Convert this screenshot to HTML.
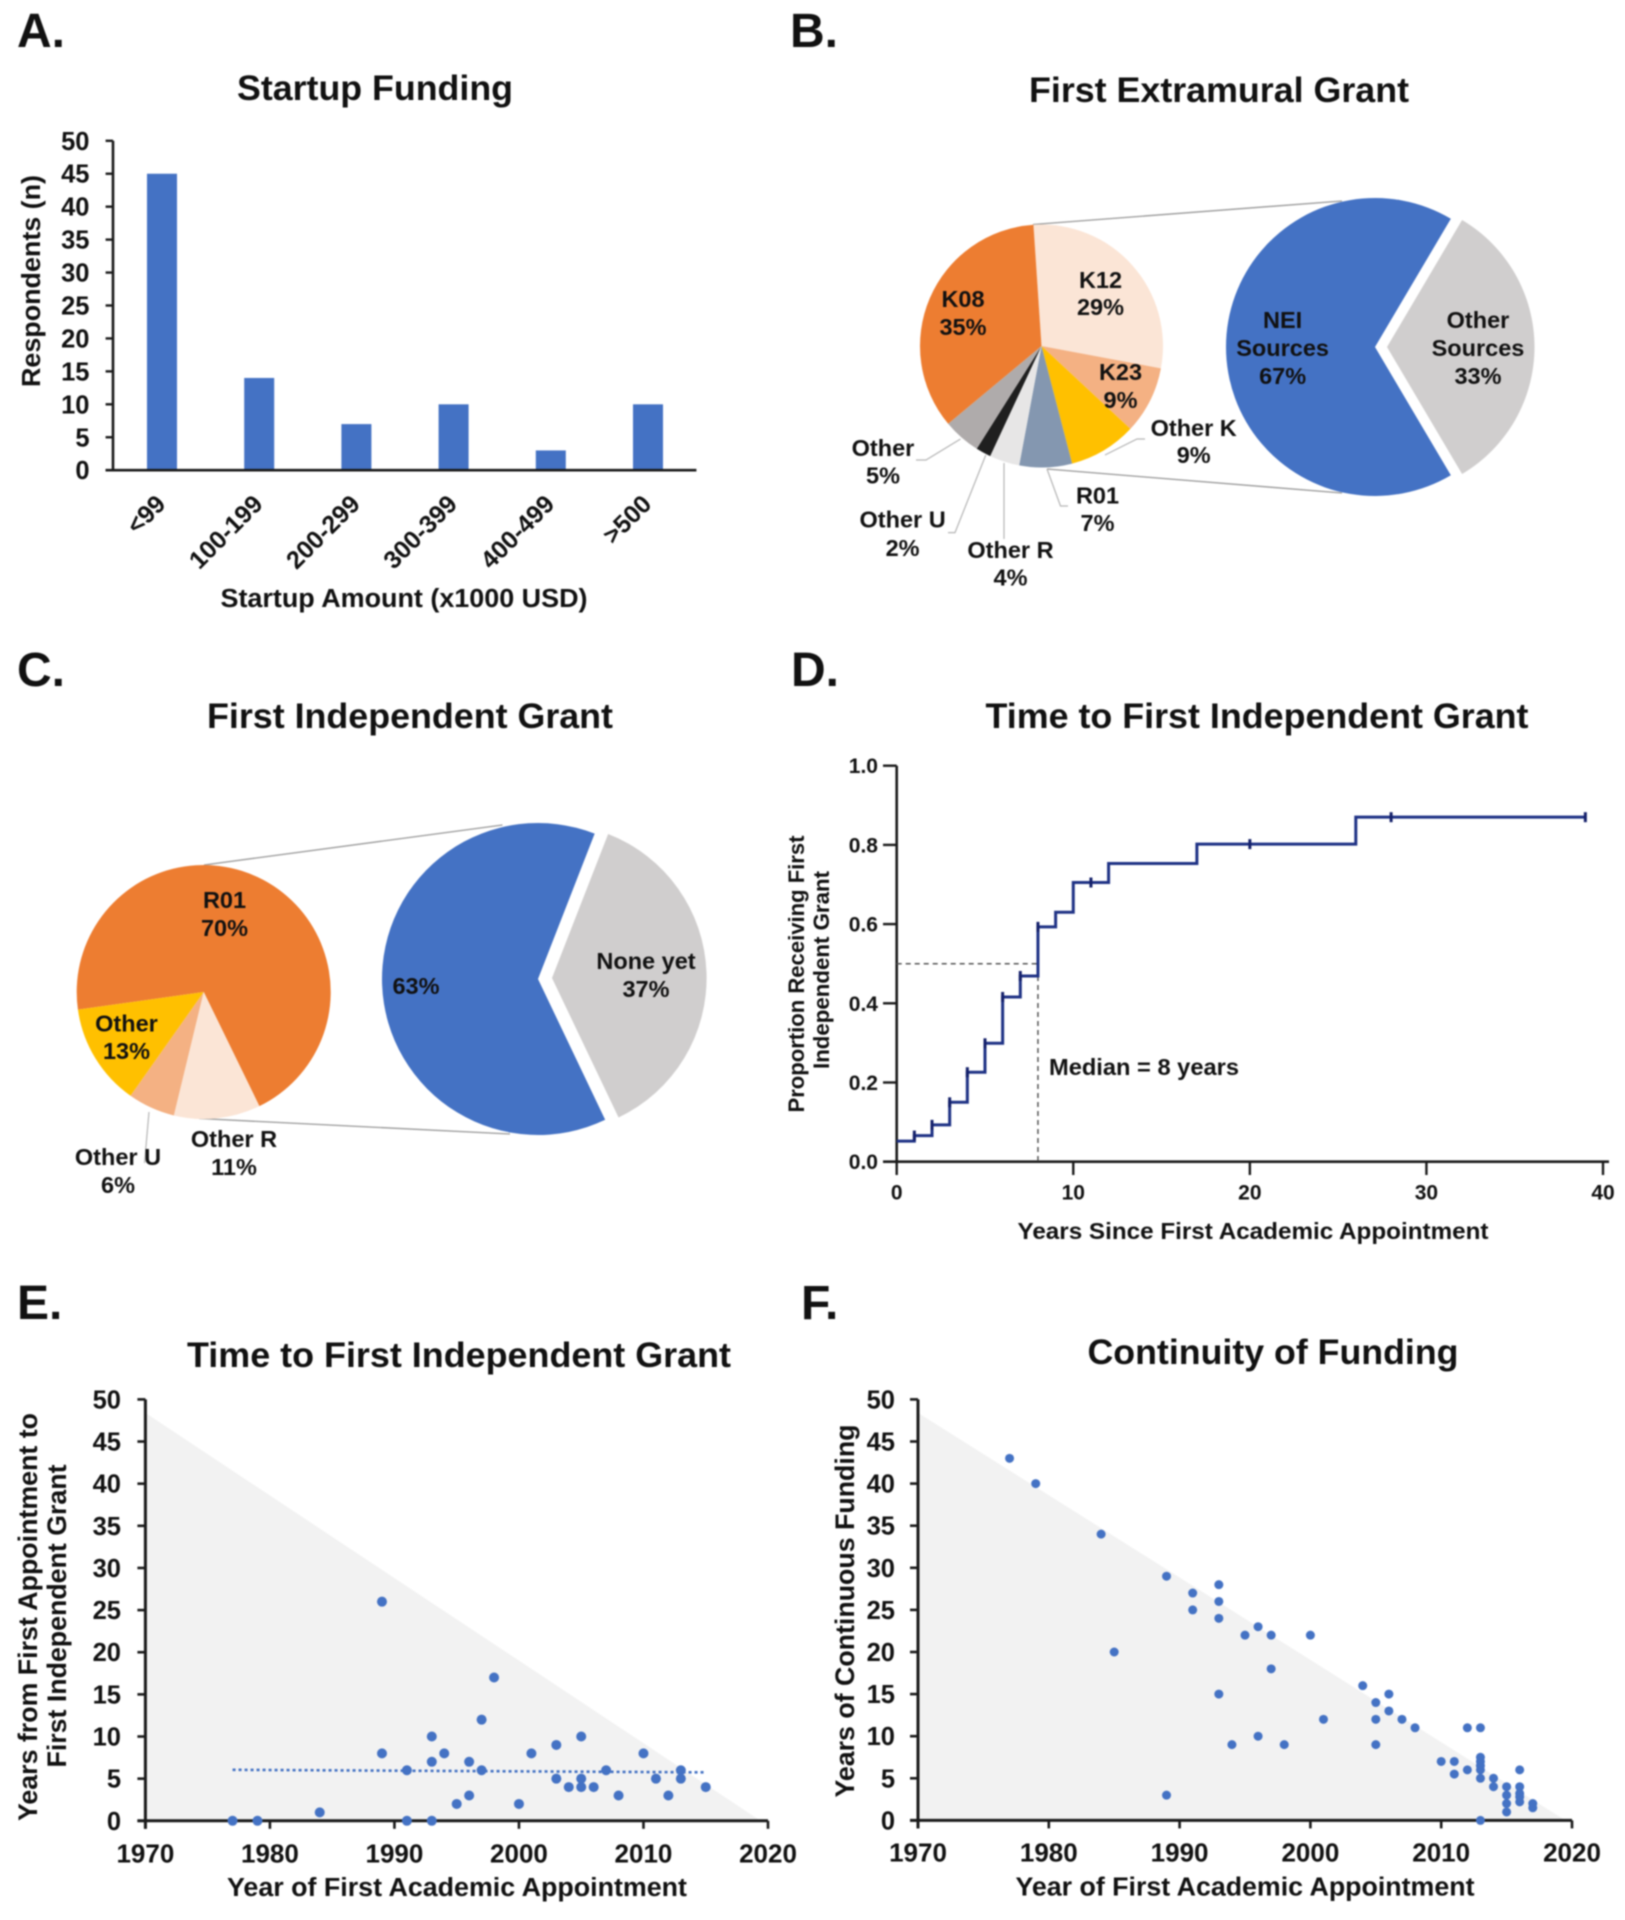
<!DOCTYPE html>
<html lang="en">
<head>
<meta charset="utf-8">
<title>Funding survey figure</title>
<style>
html,body{margin:0;padding:0;background:#fff;}
svg{display:block;filter:blur(0.7px);}
text{font-family:"Liberation Sans",Arial,sans-serif;font-weight:bold;fill:#111;}
.panel{font-size:48px;}
.title{font-size:35px;text-anchor:middle;}
.lab{font-size:23.5px;text-anchor:middle;}
.axt{font-size:25.5px;text-anchor:middle;}
.lead{fill:none;stroke:#b5b5b5;stroke-width:1.2;}
.conn{fill:none;stroke:#999;stroke-width:1.3;}
</style>
</head>
<body>
<svg id="fig" xmlns="http://www.w3.org/2000/svg" width="1625" height="1920" viewBox="0 0 1625 1920">
<rect width="1625" height="1920" fill="#fff"/>

<text class="panel" x="17" y="47">A.</text>
<text class="panel" x="790" y="47">B.</text>
<text class="panel" x="17" y="686">C.</text>
<text class="panel" x="791" y="686">D.</text>
<text class="panel" x="17" y="1319">E.</text>
<text class="panel" x="801" y="1319">F.</text>

<text class="title" x="375" y="100" textLength="276" lengthAdjust="spacingAndGlyphs">Startup Funding</text>
<text class="title" x="1219" y="102" textLength="380" lengthAdjust="spacingAndGlyphs">First Extramural Grant</text>
<text class="title" x="410" y="728" textLength="406" lengthAdjust="spacingAndGlyphs">First Independent Grant</text>
<text class="title" x="1257" y="728" textLength="543" lengthAdjust="spacingAndGlyphs">Time to First Independent Grant</text>
<text class="title" x="459" y="1367" textLength="544" lengthAdjust="spacingAndGlyphs">Time to First Independent Grant</text>
<text class="title" x="1273" y="1364" textLength="371" lengthAdjust="spacingAndGlyphs">Continuity of Funding</text>

<g id="panel-a"></g>
<text class="axt" transform="translate(40,281) rotate(-90)" textLength="212" lengthAdjust="spacingAndGlyphs">Respondents (n)</text>
<text class="axt" x="404" y="607" textLength="367" lengthAdjust="spacingAndGlyphs">Startup Amount (x1000 USD)</text>

<g>
<path class="conn" d="M1033 224.5L1342 201"/>
<path class="conn" d="M1047 469L1342 493"/>
</g>
<g id="panel-b"></g>
<g>
<path class="lead" d="M960.5 439L926 460L916 460"/>
<path class="lead" d="M985.8 455L955 532.6L948 532.6"/>
<path class="lead" d="M1004 463L1004 539"/>
<path class="lead" d="M1047 469L1060.5 506L1068 506"/>
<path class="lead" d="M1105 455L1137 439L1145 439"/>
</g>
<g>
<text class="lab" x="963" y="307">K08</text><text class="lab" x="963" y="335">35%</text>
<text class="lab" x="1100.5" y="288">K12</text><text class="lab" x="1100.5" y="315">29%</text>
<text class="lab" x="1120.5" y="380">K23</text><text class="lab" x="1120.5" y="408">9%</text>
<text class="lab" x="1282.6" y="328">NEI</text><text class="lab" x="1282.6" y="356">Sources</text><text class="lab" x="1282.6" y="384">67%</text>
<text class="lab" x="1478" y="328">Other</text><text class="lab" x="1478" y="356">Sources</text><text class="lab" x="1478" y="384">33%</text>
<text class="lab" x="1193.7" y="436">Other K</text><text class="lab" x="1193.7" y="463">9%</text>
<text class="lab" x="883" y="456">Other</text><text class="lab" x="883" y="483.5">5%</text>
<text class="lab" x="1097.5" y="503.5">R01</text><text class="lab" x="1097.5" y="531">7%</text>
<text class="lab" x="902.6" y="527.6">Other U</text><text class="lab" x="902.6" y="556">2%</text>
<text class="lab" x="1010.5" y="558">Other R</text><text class="lab" x="1010.5" y="585.6">4%</text>
</g>

<g>
<path class="conn" d="M204 865L502.5 825"/>
<path class="conn" d="M199 1118.5L510 1134"/>
</g>
<g id="panel-c"></g>
<path class="lead" d="M149 1112L144.5 1163"/>
<g>
<text class="lab" x="224.5" y="908">R01</text><text class="lab" x="224.5" y="936">70%</text>
<text class="lab" x="126.5" y="1031.5">Other</text><text class="lab" x="126.5" y="1059">13%</text>
<text class="lab" x="416" y="994">63%</text>
<text class="lab" x="646" y="969">None yet</text><text class="lab" x="646" y="997">37%</text>
<text class="lab" x="118" y="1165">Other U</text><text class="lab" x="118" y="1193">6%</text>
<text class="lab" x="234" y="1147">Other R</text><text class="lab" x="234" y="1175">11%</text>
</g>

<g id="panel-d"></g>
<text class="axt" style="font-size:22.5px" transform="translate(804,974) rotate(-90)" textLength="277" lengthAdjust="spacingAndGlyphs">Proportion Receiving First</text>
<text class="axt" style="font-size:22.5px" transform="translate(829,970) rotate(-90)" textLength="198" lengthAdjust="spacingAndGlyphs">Independent Grant</text>
<text class="axt" style="font-size:23px" x="1253" y="1239" textLength="471" lengthAdjust="spacingAndGlyphs">Years Since First Academic Appointment</text>
<text class="axt" style="font-size:23.5px;text-anchor:start" x="1049" y="1075" textLength="190" lengthAdjust="spacingAndGlyphs">Median = 8 years</text>

<g id="panel-e"></g>
<text class="axt" style="font-size:26.5px" transform="translate(37,1617) rotate(-90)" textLength="408" lengthAdjust="spacingAndGlyphs">Years from First Appointment to</text>
<text class="axt" style="font-size:26.5px" transform="translate(66,1616) rotate(-90)" textLength="303" lengthAdjust="spacingAndGlyphs">First Independent Grant</text>
<text class="axt" x="457" y="1896" textLength="460" lengthAdjust="spacingAndGlyphs">Year of First Academic Appointment</text>

<g id="panel-f"></g>
<text class="axt" style="font-size:26.5px" transform="translate(854,1611) rotate(-90)" textLength="373" lengthAdjust="spacingAndGlyphs">Years of Continuous Funding</text>
<text class="axt" x="1245" y="1895.5" textLength="459" lengthAdjust="spacingAndGlyphs">Year of First Academic Appointment</text>
</svg>

<script>
/* ---------- Panel A data ---------- */
const aCategories = ['<99','100-199','200-299','300-399','400-499','>500'];
const aValues = [45,14,7,10,3,10];
const aYTicks = [0,5,10,15,20,25,30,35,40,45,50];

/* ---------- Panel B data ---------- */
const bNames = ['K12','K23','Other K','R01','Other R','Other U','Other','K08'];
const bValues = [29,9,9,7,4,2,5,35];
const bColors = ['#FBE5D6','#F4B183','#FFC000','#8497B0','#E7E6E6','#1f1f1f','#AFABAB','#ED7D31'];
const bSplitNames = ['NEI Sources','Other Sources'];
const bSplitValues = [67,33];

/* ---------- Panel C data ---------- */
const cNames = ['R01','Other R','Other U','Other'];
const cValues = [70,11,6,13];
const cColors = ['#ED7D31','#FBE5D6','#F4B183','#FFC000'];
const cSplitNames = ['Funded','None yet'];
const cSplitValues = [63,37];

/* ---------- Panel D data ---------- */
const dStepTimes = [0,1,2,3,4,5,6,7,8,9,10,12,17,26];
const dStepValues = [0.052,0.066,0.093,0.15,0.226,0.299,0.416,0.469,0.593,0.63,0.705,0.753,0.802,0.87];
const dEndTime = [39];
const dCensorTimes = [1,2,3,4,5,6,7,8,11,20,28,39];
const dMedian = [8];
const dXTicks = [0,10,20,30,40];
const dYTicks = [0,0.2,0.4,0.6,0.8,1];

/* ---------- Panel E data ---------- */
const eYears = [1977,1979,1984,1989,1989,1991,1991,1993,1993,1993,1994,1995,1996,1996,1997,1997,1998,2000,2001,2003,2003,2004,2005,2005,2005,2006,2007,2008,2010,2011,2012,2013,2013,2015];
const eValues = [0,0,1,26,8,6,0,10,7,0,8,2,7,3,12,6,17,2,8,9,5,4,10,5,4,4,6,3,8,5,3,6,5,4];
const eTrendYears = [1977,2015];
const eTrendValues = [6.05,5.75];
const eLimitYears = [1970,1970,2019.4];
const eLimitValues = [0,48.4,0];

/* ---------- Panel F data ---------- */
const fYears = [1977,1979,1984,1985,1989,1989,1991,1991,1993,1993,1993,1993,1994,1995,1996,1996,1997,1997,1998,2000,2001,2004,2005,2005,2005,2006,2006,2007,2008,2010,2011,2011,2012,2012,2013,2013,2013,2013,2013,2013,2013,2014,2014,2015,2015,2015,2015,2016,2016,2016,2016,2016,2017,2017];
const fValues = [43,40,34,20,29,3,27,25,28,26,24,15,9,22,23,10,22,18,9,22,12,16,14,12,9,15,13,12,11,7,7,5.5,11,6,11,7.5,7,6.5,6,5,0,5,4,4,3,2,1,6,4,3.2,2.8,2.2,2,1.5];
const fLimitYears = [1970,1970,2019.5];
const fLimitValues = [0,48.4,0];

const scatterXTicks = [1970,1980,1990,2000,2010,2020];
const scatterYTicks = [0,5,10,15,20,25,30,35,40,45,50];

/* ---------- helpers ---------- */
const NS = 'http://www.w3.org/2000/svg';
function make(parent, tag, props, content) {
  const node = document.createElementNS(NS, tag);
  for (const k in props) node.setAttribute(k, props[k]);
  if (content !== undefined) node.textContent = content;
  parent.appendChild(node);
  return node;
}
function linear(d0, d1, r0, r1) {
  return v => r0 + (v - d0) * (r1 - r0) / (d1 - d0);
}
function polar(cx, cy, r, deg) {
  const a = deg * Math.PI / 180;
  return [cx + r * Math.sin(a), cy - r * Math.cos(a)];
}
function slicePath(cx, cy, r, a0, a1) {
  const p0 = polar(cx, cy, r, a0), p1 = polar(cx, cy, r, a1);
  const large = (a1 - a0) > 180 ? 1 : 0;
  return 'M' + cx + ' ' + cy + 'L' + p0[0] + ' ' + p0[1] + 'A' + r + ' ' + r + ' 0 ' + large + ' 1 ' + p1[0] + ' ' + p1[1] + 'Z';
}
function drawPie(parent, cx, cy, r, startDeg, values, colors, names) {
  const total = values.reduce((s, v) => s + v, 0);
  let a = startDeg;
  values.forEach((v, i) => {
    const sweep = v / total * 360;
    const s = make(parent, 'path', {d: slicePath(cx, cy, r, a, a + sweep), fill: colors[i]});
    
    
    a += sweep;
  });
}
function drawSplitPie(parent, leftC, rightC, r, rightR, leftCenterDeg, values, names) {
  const total = values[0] + values[1];
  const sweep = values[0] / total * 360;
  const a0 = leftCenterDeg - sweep / 2;
  const blue = make(parent, 'path', {d: slicePath(leftC[0], leftC[1], r, a0, a0 + sweep), fill: '#4472C4'});
  
  
  const grey = make(parent, 'path', {d: slicePath(rightC[0], rightC[1], rightR, a0 + sweep, a0 + 360), fill: '#D0CECE'});
  
  
}
function axisLine(parent, d, w, name) {
  const l = make(parent, 'path', {d: d, stroke: '#1a1a1a', 'stroke-width': w, fill: 'none'});
  
  
}
function tickLabel(parent, x, y, anchor, size, str, name) {
  const t = make(parent, 'text', {x: x, y: y, 'text-anchor': anchor, style: 'font-size:' + size + 'px'}, str);
  
  
}

/* ---------- Panel A ---------- */
(function () {
  const g = document.getElementById('panel-a');
  const y = linear(0, 50, 470.2, 140.8);
  const x = i => 113.4 + (i + 0.5) * 97.2;
  aValues.forEach((v, i) => {
    const b = make(g, 'rect', {x: x(i) - 15, y: y(v), width: 30, height: y(0) - y(v), fill: '#4472C4'});
    
    
  });
  axisLine(g, 'M113 ' + y(50) + 'V' + y(0), 2.6, 'panel-a-y-axis');
  axisLine(g, 'M105.6 ' + y(0) + 'H696.4', 2.6, 'panel-a-x-axis');
  aYTicks.forEach(v => {
    axisLine(g, 'M105.6 ' + y(v) + 'H113', 2.4, 'panel-a-y-tick');
    tickLabel(g, 89.5, y(v) + 9, 'end', 25.5, String(v), 'panel-a-y-tick-label');
  });
  aCategories.forEach((c, i) => {
    const t = make(g, 'text', {transform: 'translate(' + (x(i) + 5) + ',505.5) rotate(-45)', 'text-anchor': 'end', style: 'font-size:25px'}, c);
    
    
  });
})();

/* ---------- Panels B and C ---------- */
drawPie(document.getElementById('panel-b'), 1041.5, 346, 121.5, -3.8, bValues, bColors, bNames);
drawSplitPie(document.getElementById('panel-b'), [1375, 347], [1387, 347], 149, 147.5, 270, bSplitValues, bSplitNames);
drawPie(document.getElementById('panel-c'), 203.7, 992, 127, 262, cValues, cColors, cNames);
drawSplitPie(document.getElementById('panel-c'), [538, 979], [552, 978], 156, 154.6, 267.9, cSplitValues, cSplitNames);

/* ---------- Panel D ---------- */
(function () {
  const g = document.getElementById('panel-d');
  const x = linear(0, 40, 896.7, 1603);
  const y = linear(0, 1, 1161.7, 765.7);
  const valueAt = t => {
    let p = dStepValues[0];
    dStepTimes.forEach((s, i) => { if (s <= t) p = dStepValues[i]; });
    return p;
  };
  axisLine(g, 'M' + x(0) + ' ' + y(1) + 'V' + y(0), 2.6, 'panel-d-y-axis');
  axisLine(g, 'M883 ' + y(0) + 'H1609', 2.6, 'panel-d-x-axis');
  dYTicks.forEach(v => {
    axisLine(g, 'M883 ' + y(v) + 'H' + x(0), 2.4, 'panel-d-y-tick');
    tickLabel(g, 878, y(v) + 7.5, 'end', 21, v.toFixed(1), 'panel-d-y-tick-label');
  });
  dXTicks.forEach(v => {
    axisLine(g, 'M' + x(v) + ' ' + y(0) + 'V1175', 2.4, 'panel-d-x-tick');
    tickLabel(g, x(v), 1199.5, 'middle', 21, String(v), 'panel-d-x-tick-label');
  });
  const guide = make(g, 'path', {d: 'M' + x(0) + ' ' + y(0.5) + 'H' + x(dMedian[0]) + 'M' + x(dMedian[0]) + ' ' + y(valueAt(dMedian[0] - 1)) + 'V' + y(0), fill: 'none', stroke: '#555', 'stroke-width': 1.5, 'stroke-dasharray': '5 4'});
  
  
  let d = 'M' + x(dStepTimes[0]) + ' ' + y(dStepValues[0]);
  for (let i = 1; i < dStepTimes.length; i++) d += 'H' + x(dStepTimes[i]) + 'V' + y(dStepValues[i]);
  d += 'H' + x(dEndTime[0]);
  const curve = make(g, 'path', {d: d, fill: 'none', stroke: '#1f3285', 'stroke-width': 3});
  
  
  dCensorTimes.forEach(t => {
    const c = make(g, 'path', {d: 'M' + x(t) + ' ' + (y(valueAt(t)) - 5) + 'v10', stroke: '#14206a', 'stroke-width': 3});
    
    
  });
})();

/* ---------- Panels E and F ---------- */
function scatter(g, box, years, values, limitYears, limitValues, radius, labelRight, tickY, prefix) {
  const x = linear(1970, 2020, box.left, box.right);
  const y = linear(0, 50, box.bottom, box.top);
  const shade = make(g, 'polygon', {points: limitYears.map((yr, i) => x(yr) + ',' + y(limitValues[i])).join(' '), fill: '#F2F2F2'});
  
  
  axisLine(g, 'M' + x(1970) + ' ' + y(50) + 'V' + (y(0) + 8), 3, prefix + '-y-axis');
  axisLine(g, 'M' + (x(1970) - 8) + ' ' + y(0) + 'H' + x(2020), 3, prefix + '-x-axis');
  scatterYTicks.forEach(v => {
    axisLine(g, 'M' + (x(1970) - 8) + ' ' + y(v) + 'H' + x(1970), 2.6, prefix + '-y-tick');
    tickLabel(g, labelRight, y(v) + 9, 'end', 25.5, String(v), prefix + '-y-tick-label');
  });
  scatterXTicks.forEach(v => {
    axisLine(g, 'M' + x(v) + ' ' + y(0) + 'v8', 2.6, prefix + '-x-tick');
    tickLabel(g, x(v), tickY, 'middle', 26, String(v), prefix + '-x-tick-label');
  });
  years.forEach((yr, i) => {
    const dot = make(g, 'circle', {cx: x(yr), cy: y(values[i]), r: radius, fill: '#4472C4'});
    
    
  });
  return {x: x, y: y};
}
(function () {
  const g = document.getElementById('panel-e');
  const s = scatter(g, {left: 145.4, right: 768, top: 1399.4, bottom: 1820.8}, eYears, eValues, eLimitYears, eLimitValues, 5, 121, 1862.5, 'panel-e');
  const trend = make(g, 'line', {x1: s.x(eTrendYears[0]), y1: s.y(eTrendValues[0]), x2: s.x(eTrendYears[1]), y2: s.y(eTrendValues[1]), stroke: '#4472C4', 'stroke-width': 2.6, 'stroke-dasharray': '3 3'});
  
  
})();
scatter(document.getElementById('panel-f'), {left: 918, right: 1572, top: 1399.4, bottom: 1820.4}, fYears, fValues, fLimitYears, fLimitValues, 4.5, 895, 1861.5, 'panel-f');
</script>
</body>
</html>
